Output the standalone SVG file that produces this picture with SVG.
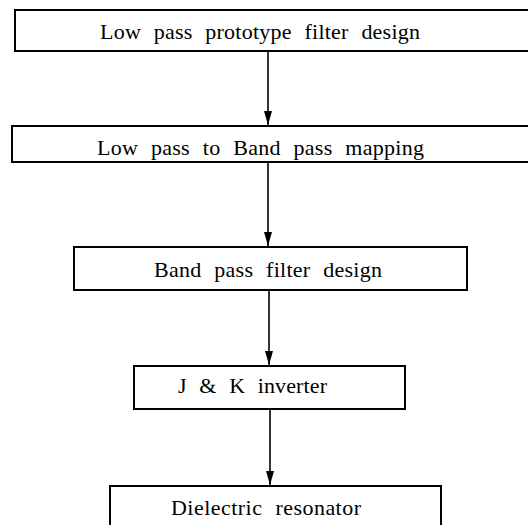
<svg xmlns="http://www.w3.org/2000/svg" width="528" height="525" viewBox="0 0 528 525">
<style>
.box{fill:#fff;stroke:#000;stroke-width:2}
.lbl{font-family:"Liberation Serif","Times New Roman",serif;font-size:22px;fill:#000;word-spacing:7px}
.con{stroke:#000;stroke-width:1.6;fill:none}
</style>
<defs>
<marker id="ah" markerWidth="14" markerHeight="8" refX="14" refY="4" orient="auto" markerUnits="userSpaceOnUse" viewBox="0 0 14 8">
<path d="M0,0 L14,4 L0,8 Z" fill="#000"/>
</marker>
</defs>
<rect width="528" height="525" fill="#fff"/>
<g id="connectors">
<line class="con" x1="268" y1="51" x2="268" y2="125" marker-end="url(#ah)"/>
<line class="con" x1="268" y1="162" x2="268" y2="246" marker-end="url(#ah)"/>
<line class="con" x1="269" y1="290" x2="269" y2="365" marker-end="url(#ah)"/>
<line class="con" x1="270" y1="409" x2="270" y2="485" marker-end="url(#ah)"/>
</g>
<g id="n1">
<rect class="box" x="15" y="10" width="520" height="41"/>
<text class="lbl" x="100" y="39" textLength="320" lengthAdjust="spacing">Low pass prototype filter design</text>
</g>
<g id="n2">
<rect class="box" x="12" y="126" width="523" height="36"/>
<text class="lbl" x="97" y="155" textLength="327" lengthAdjust="spacing">Low pass to Band pass mapping</text>
</g>
<g id="n3">
<rect class="box" x="74" y="247" width="393" height="43"/>
<text class="lbl" x="154" y="277" textLength="228" lengthAdjust="spacing">Band pass filter design</text>
</g>
<g id="n4">
<rect class="box" x="134" y="366" width="271" height="43"/>
<text class="lbl" x="178" y="393" textLength="149" lengthAdjust="spacing">J &amp; K inverter</text>
</g>
<g id="n5">
<rect class="box" x="110" y="486" width="331" height="50"/>
<text class="lbl" x="171" y="515" textLength="190" lengthAdjust="spacing">Dielectric resonator</text>
</g>
</svg>
